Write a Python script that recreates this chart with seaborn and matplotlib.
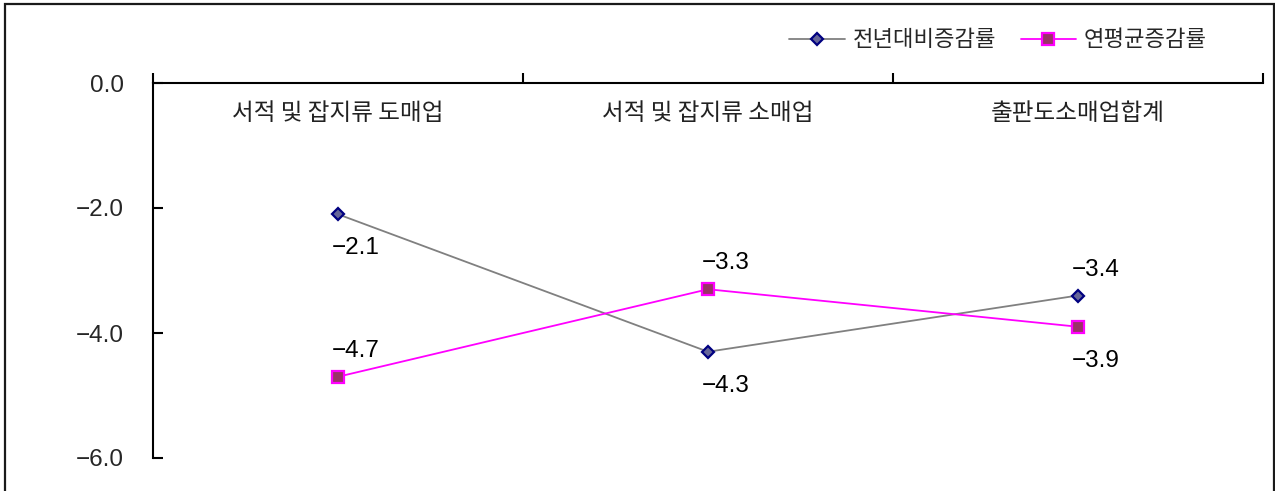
import matplotlib
matplotlib.use("Agg")
import matplotlib.pyplot as plt
from matplotlib.lines import Line2D
from matplotlib.patches import Rectangle
import numpy as np
import pandas as pd
import seaborn as sns

# Data
categories = ["서적 및 잡지류 도매업", "서적 및 잡지류 소매업", "출판도소매업합계"]
series_names = ["전년대비증감률", "연평균증감률"]
yoy_change = [-2.1, -4.3, -3.4]
avg_annual_change = [-4.7, -3.3, -3.9]
y_ticks = [0.0, -2.0, -4.0, -6.0]

sns.set_theme(style="white")
plt.rcParams["font.family"] = ["Liberation Sans", "Noto Sans CJK KR", "DejaVu Sans"]
kr_font = ["Noto Sans CJK KR", "DejaVu Sans"]

W, H = 1275, 491
fig = plt.figure(figsize=(W / 100, H / 100), dpi=100)
fig.patch.set_facecolor("white")

# axes box in pixel terms
left_px, right_px, top_px, bottom_px = 153, 1263, 83, 458
ax = fig.add_axes([left_px / W, 1 - bottom_px / H,
                   (right_px - left_px) / W, (bottom_px - top_px) / H])
ax.set_facecolor("white")

x = np.arange(len(categories))
df = pd.DataFrame({"pos": np.concatenate([x, x]),
                   "value": yoy_change + avg_annual_change,
                   "series": [series_names[0]] * 3 + [series_names[1]] * 3})

styles = {
    series_names[0]: dict(color="#808080", marker="D", markersize=6.5,
                          markerfacecolor="#666699", markeredgecolor="#000080",
                          markeredgewidth=1.6, linewidth=1.3),
    series_names[1]: dict(color="#FF00FF", marker="s", markersize=8.5,
                          markerfacecolor="#993366", markeredgecolor="#FF00FF",
                          markeredgewidth=1.6, linewidth=1.3),
}
for name in series_names:
    sub = df[df["series"] == name]
    sns.lineplot(data=sub, x="pos", y="value", ax=ax, sort=False,
                 legend=False, **styles[name])

# value labels: +1 above the marker, -1 below
placement = {series_names[0]: [-1, -1, 1], series_names[1]: [1, 1, -1]}
for name, vals in zip(series_names, [yoy_change, avg_annual_change]):
    for xi, v, side in zip(x, vals, placement[name]):
        dy = 26 if side > 0 else -34
        ax.annotate(f"{v:.1f}".replace("-", "\u2212"), (xi, v),
                    xytext=(18 * 0.72, dy * 0.72), textcoords="offset points",
                    ha="center", va="center", fontsize=17.5, color="black")

# category names under the top axis line
for xi, cat in zip(x, categories):
    ax.text(xi, -0.48, cat, ha="center", va="center",
            fontsize=17, family=kr_font, color="#222222")

ax.set_xlim(-0.5, len(categories) - 0.5)
ax.set_ylim(-6, 0)
ax.set_xlabel("")
ax.set_ylabel("")

# x axis along the top edge at 0, ticks at category boundaries pointing up
ax.xaxis.set_ticks_position("top")
ax.set_xticks(np.arange(len(categories) + 1) - 0.5)
ax.set_xticklabels([])
ax.tick_params(axis="x", which="major", direction="out", length=7,
               width=1.5, color="black", top=True, bottom=False)

ax.set_yticks(y_ticks)
ax.set_yticklabels([f"{t:.1f}".replace("-", "\u2212") for t in y_ticks])
ax.tick_params(axis="y", direction="in", length=7, width=1.5, color="black",
               left=True, right=False, labelsize=17.5, pad=21)

for side in ["bottom", "right"]:
    ax.spines[side].set_visible(False)
for side in ["top", "left"]:
    ax.spines[side].set_visible(True)
    ax.spines[side].set_color("black")
    ax.spines[side].set_linewidth(1.5)
ax.grid(False)

# legend
handles = [Line2D([], [], **styles[n]) for n in series_names]
fig.legend(handles, series_names, loc="center right",
           bbox_to_anchor=(1207 / W, 1 - 40 / H), ncol=2, frameon=False,
           prop={"family": kr_font, "size": 16}, handlelength=2.5,
           handletextpad=0.35, columnspacing=1.1, borderpad=0, borderaxespad=0)

# outer frame
fig.patches.append(Rectangle((5 / W, -0.05), (1274 - 5) / W, 1.05 - 4 / H,
                             transform=fig.transFigure, fill=False,
                             edgecolor="#1a1a1a", linewidth=1.6, zorder=0))

fig.savefig("out.png", dpi=100, facecolor="white")
